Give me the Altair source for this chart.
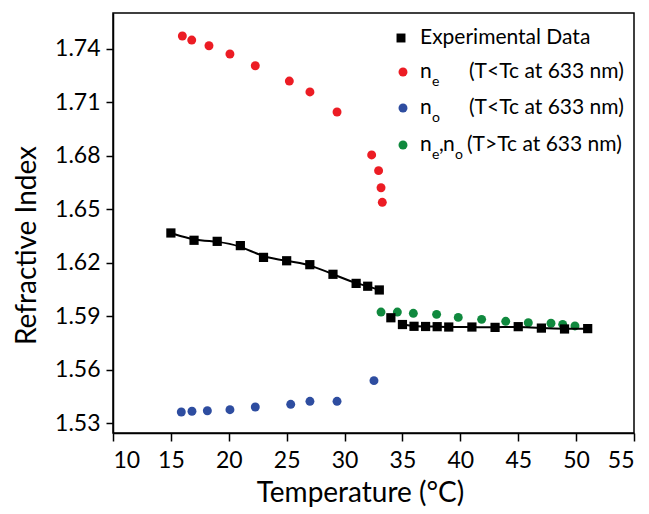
import altair as alt
import pandas as pd

# ---------------- data ----------------
exp_T = [15, 17, 19, 21, 23, 25, 27, 29, 31, 32, 33, 34, 35, 36, 37, 38, 39, 41, 43, 45, 47, 49, 51]
exp_n = [1.6367, 1.6326, 1.6320, 1.6296, 1.6230, 1.6211, 1.6189, 1.6135, 1.6084, 1.6068, 1.6047,
         1.5891, 1.5853, 1.5843, 1.5842, 1.5841, 1.5839, 1.5839, 1.5837, 1.5841, 1.5833, 1.5828, 1.5830]
exp_seg = ["low"] * 11 + ["gap"] + ["high"] * 11

ne_T = [15.99, 16.80, 18.29, 20.10, 22.29, 25.23, 27.01, 29.35, 32.34, 32.94, 33.15, 33.26]
ne_n = [1.7473, 1.7450, 1.7418, 1.7372, 1.7306, 1.7220, 1.7159, 1.7046, 1.6805, 1.6717, 1.6621, 1.6539]

no_T = [15.90, 16.82, 18.15, 20.10, 22.29, 25.35, 27.01, 29.35, 32.54]
no_n = [1.5362, 1.5366, 1.5369, 1.5375, 1.5390, 1.5405, 1.5422, 1.5422, 1.5538]

iso_T = [33.15, 34.56, 35.94, 37.95, 39.82, 41.84, 43.92, 45.87, 47.83, 48.84, 49.90]
iso_n = [1.5923, 1.5923, 1.5916, 1.5910, 1.5893, 1.5882, 1.5871, 1.5863, 1.5860, 1.5854, 1.5845]

x_ticks = [10, 15, 20, 25, 30, 35, 40, 45, 50, 55]
y_ticks = [1.53, 1.56, 1.59, 1.62, 1.65, 1.68, 1.71, 1.74]

RED = "#EC1C24"
BLUE = "#2E4DA0"
GREEN = "#10893E"
FONT = "Lato"

# legend entries (label pieces)
leg_sym_shape = ["square", "circle", "circle", "circle"]
leg_sym_color = ["black", RED, BLUE, GREEN]
leg_main = ["Experimental Data", "n", "n", "n"]
leg_desc = ["", "(T<Tc at 633 nm)", "(T<Tc at 633 nm)", "(T>Tc at 633 nm)"]

# ---------------- chart ----------------
xs = alt.Scale(domain=[10, 55], nice=False, zero=False)
ys = alt.Scale(domain=[1.5244, 1.7602], nice=False, zero=False)
X = alt.X("T:Q", scale=xs,
          axis=alt.Axis(values=x_ticks, title="Temperature (°C)", grid=False,
                        tickSize=8, labelPadding=8, titlePadding=7, format="d",
                        titleX=247))
Y = alt.Y("n:Q", scale=ys,
          axis=alt.Axis(values=y_ticks, title="Refractive Index", grid=False,
                        tickSize=7, labelPadding=6, titlePadding=13, format=".2f",
                        titleY=232))

exp_df = pd.DataFrame({"T": exp_T, "n": exp_n, "seg": exp_seg})
line_df = exp_df[exp_df.seg != "gap"]

ne_df = pd.DataFrame({"T": ne_T, "n": ne_n})
no_df = pd.DataFrame({"T": no_T, "n": no_n})
iso_df = pd.DataFrame({"T": iso_T, "n": iso_n})

pt = dict(filled=True, opacity=1, size=80, shape="circle", strokeWidth=0)

green = alt.Chart(iso_df).mark_point(color=GREEN, **pt).encode(x=X, y=Y)
red = alt.Chart(ne_df).mark_point(color=RED, **pt).encode(x=X, y=Y)
blue = alt.Chart(no_df).mark_point(color=BLUE, **pt).encode(x=X, y=Y)
line = alt.Chart(line_df).mark_line(color="black", strokeWidth=2, interpolate="basis").encode(
    x=X, y=Y, detail="seg:N")
squares = alt.Chart(exp_df).mark_point(shape="square", filled=True, color="black",
                                       opacity=1, size=85).encode(x=X, y=Y)

# manual legend (pixel positions in plot area)
leg_rows = [25, 59, 95, 132]
sym_df = pd.DataFrame({"px": [288, 290, 290, 290], "py": leg_rows,
                       "shape": leg_sym_shape, "color": leg_sym_color})
leg_sym = alt.Chart(sym_df).mark_point(filled=True, opacity=1, size=80, strokeWidth=0).encode(
    x=alt.X("px:Q", scale=None, axis=None),
    y=alt.Y("py:Q", scale=None, axis=None),
    shape=alt.Shape("shape:N", scale=None, legend=None),
    color=alt.Color("color:N", scale=None, legend=None))

txt_df = pd.DataFrame({
    "px": [307, 307, 307, 307, 356, 356, 354, 326, 330],
    "py": [25, 59, 95, 132, 59, 95, 132, 132, 132],
    "t": [leg_main[0], leg_main[1], leg_main[2], leg_main[3],
          leg_desc[1], leg_desc[2], leg_desc[3], ",", "n"],
})
leg_txt = alt.Chart(txt_df).mark_text(align="left", baseline="middle", font=FONT,
                                      fontSize=21, color="black").encode(
    x=alt.X("px:Q", scale=None, axis=None),
    y=alt.Y("py:Q", scale=None, axis=None),
    text="t:N")

sub_df = pd.DataFrame({"px": [319, 319, 319, 342], "py": [69, 105, 142, 142],
                       "t": ["e", "o", "e", "o"]})
leg_sub = alt.Chart(sub_df).mark_text(align="left", baseline="middle", font=FONT,
                                      fontSize=14, color="black").encode(
    x=alt.X("px:Q", scale=None, axis=None),
    y=alt.Y("py:Q", scale=None, axis=None),
    text="t:N")

chart = alt.layer(green, red, blue, line, squares, leg_sym, leg_txt, leg_sub).properties(
    width=521, height=420,
    autosize=alt.AutoSizeParams(type="none"),
    padding={"left": 105, "top": 5, "right": 7, "bottom": 81},
).configure_view(
    stroke="black", strokeWidth=1.5
).configure_axis(
    domainColor="black", domainWidth=1.5, tickColor="black", tickWidth=1.5,
    labelFont=FONT, labelFontSize=23, labelColor="black",
    titleFont=FONT, titleFontSize=28, titleFontWeight="normal", titleColor="black",
)

chart.save("out.html", embed_options={"renderer": "svg", "actions": False})
